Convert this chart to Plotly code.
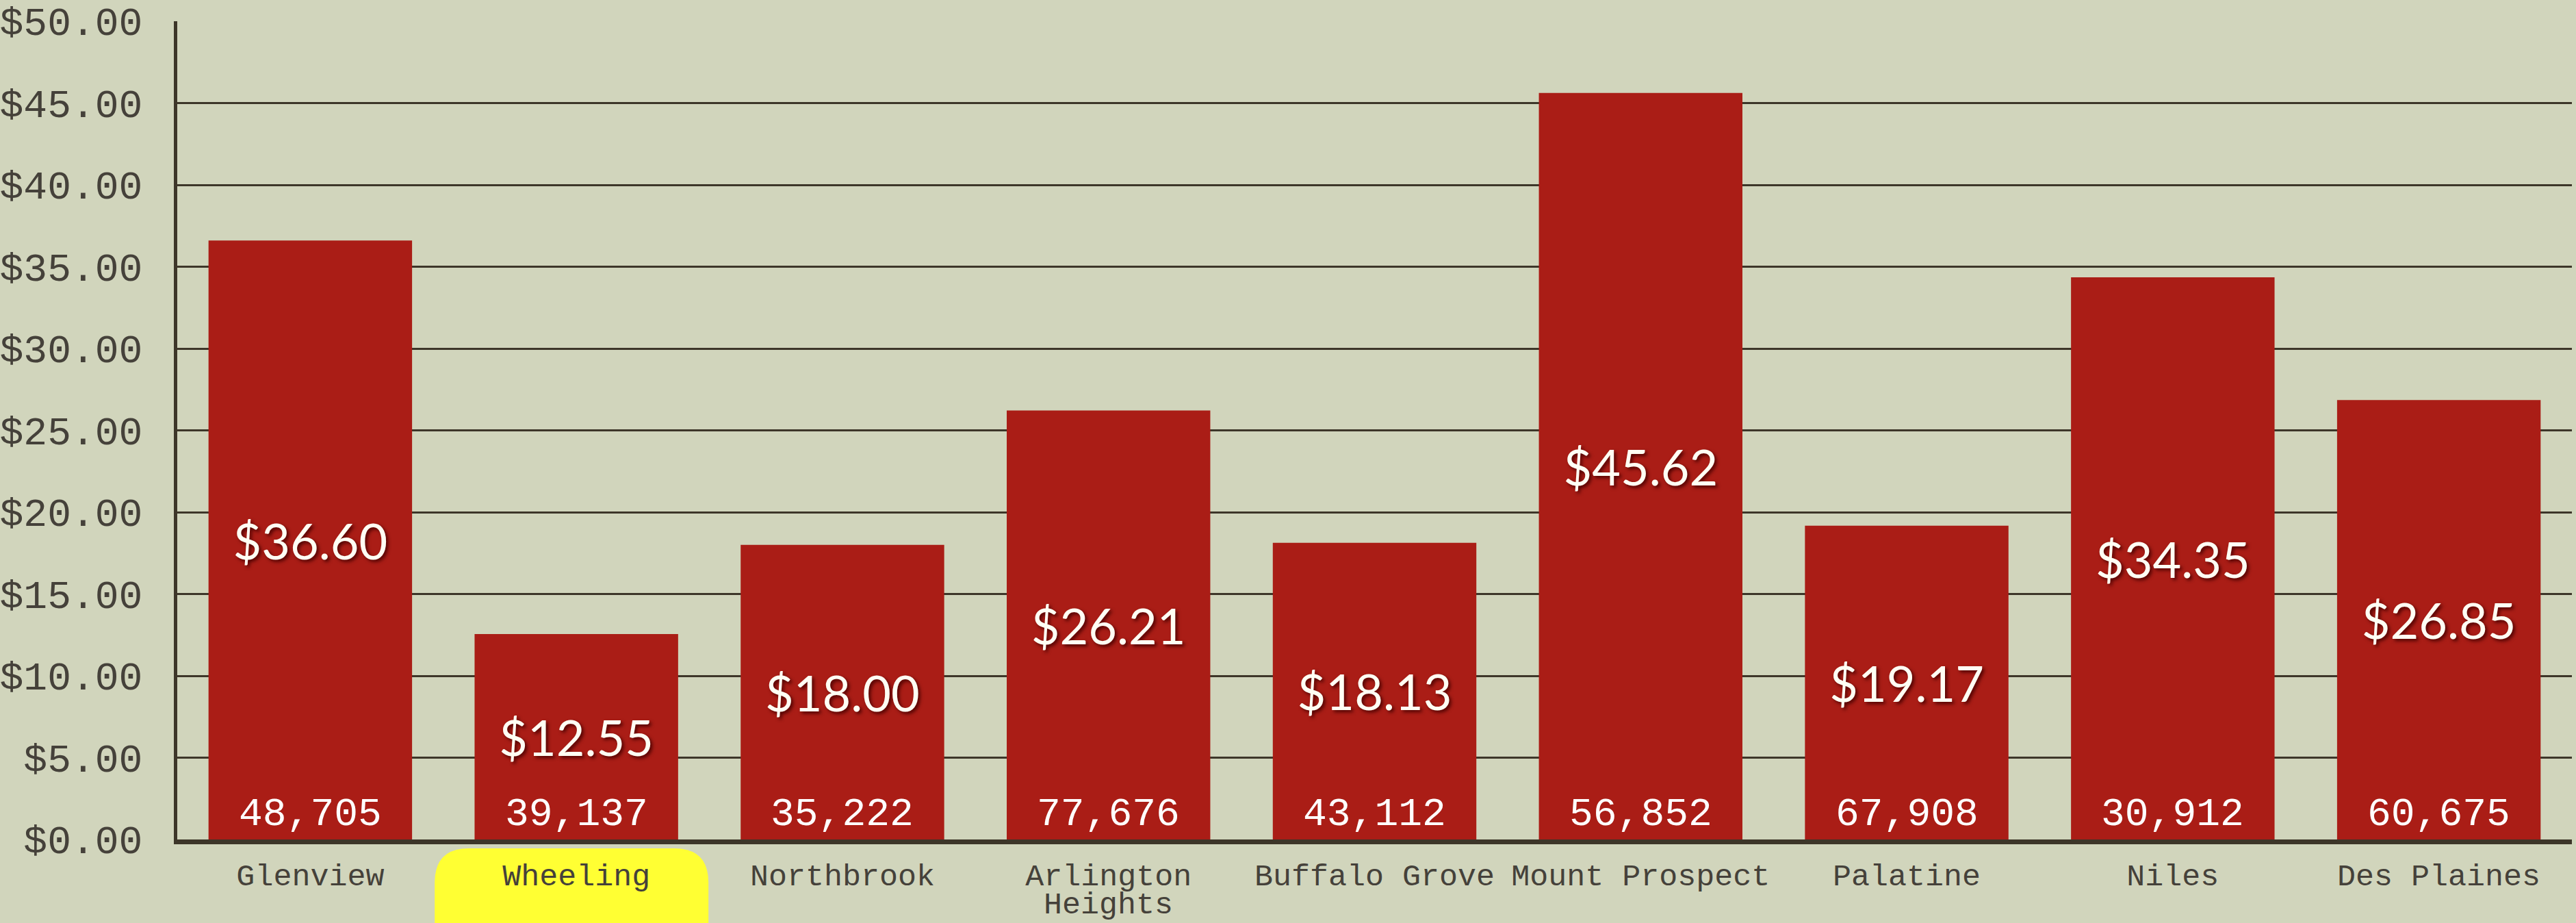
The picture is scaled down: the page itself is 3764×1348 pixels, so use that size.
import plotly.graph_objects as go

cities = ["Glenview", "Wheeling", "Northbrook", "Arlington<br>Heights", "Buffalo Grove",
          "Mount Prospect", "Palatine", "Niles", "Des Plaines"]
per_capita = [36.60, 12.55, 18.00, 26.21, 18.13, 45.62, 19.17, 34.35, 26.85]
population = [48705, 39137, 35222, 77676, 43112, 56852, 67908, 30912, 60675]
y_ticks = [0, 5, 10, 15, 20, 25, 30, 35, 40, 45, 50]
highlight_city = "Wheeling"

BG = "#D1D5BC"
BAR = "#AA1D16"
AXIS = "#3D3629"
TXT = "#45413A"
LABEL_FONT = dict(family="Liberation Mono", size=45, color=TXT)

fig = go.Figure()
fig.add_trace(go.Bar(
    x=cities, y=per_capita,
    marker=dict(color=BAR, line=dict(width=0)),
    width=0.765,
    text=[f"${v:.2f}" for v in per_capita],
    textposition="inside", insidetextanchor="middle",
    textangle=0,
    textfont=dict(family="Lato", size=72, color="#FFFFF4",
                  shadow="3px 3px 5px rgba(70,0,0,0.9)"),
    hoverinfo="skip",
))

for c, p in zip(cities, population):
    fig.add_annotation(x=c, y=0, xref="x", yref="y", text=f"{p:,}",
                       showarrow=False, yanchor="bottom", yshift=2,
                       font=dict(family="Liberation Mono", size=58, color="#FFFFFF"))

# first line of each category name as tick label, wrapped remainder as tighter second line
tick_first = [c.split("<br>")[0] for c in cities]
for c in cities:
    parts = c.split("<br>")
    if len(parts) > 1:
        fig.add_annotation(x=c, y=0, xref="x", yref="paper", text=" ".join(parts[1:]),
                           showarrow=False, yanchor="middle", yshift=-96,
                           borderpad=0, font=LABEL_FONT)

# yellow rounded highlight behind the Wheeling label
r = 50
x0, x1, ytop, ybot = -207, 193, -13, -200
path = (f"M {x0+r},{ytop} L {x1-r},{ytop} Q {x1},{ytop} {x1},{ytop-r} "
        f"L {x1},{ybot+r} Q {x1},{ybot} {x1-r},{ybot} L {x0+r},{ybot} "
        f"Q {x0},{ybot} {x0},{ybot+r} L {x0},{ytop-r} Q {x0},{ytop} {x0+r},{ytop} Z")
fig.add_shape(type="path", path=path, xref="x", yref="paper",
              xsizemode="pixel", ysizemode="pixel",
              xanchor=highlight_city, yanchor=0,
              fillcolor="#FFFF33", line=dict(width=0), layer="below")

fig.update_layout(
    width=3764, height=1348,
    margin=dict(l=259, r=6, t=31, b=122),
    paper_bgcolor=BG, plot_bgcolor=BG,
    showlegend=False,
    bargap=0.235,
    xaxis=dict(
        type="category", categoryorder="array", categoryarray=cities,
        tickvals=cities, ticktext=tick_first,
        range=[-0.5, len(cities) - 0.5], automargin=False,
        showline=True, linecolor=AXIS, linewidth=7,
        showgrid=False, ticks="", ticklabelstandoff=6,
        tickfont=LABEL_FONT,
    ),
    yaxis=dict(
        range=[0, 50], tickvals=y_ticks, automargin=False,
        ticktext=[f"${v:.2f}" for v in y_ticks],
        showline=True, linecolor=AXIS, linewidth=5,
        showgrid=True, gridcolor=AXIS, gridwidth=3,
        zeroline=False, ticks="", ticklabelstandoff=34,
        tickfont=dict(family="Liberation Mono", size=58, color=TXT),
    ),
)

fig.write_html("out.html")
